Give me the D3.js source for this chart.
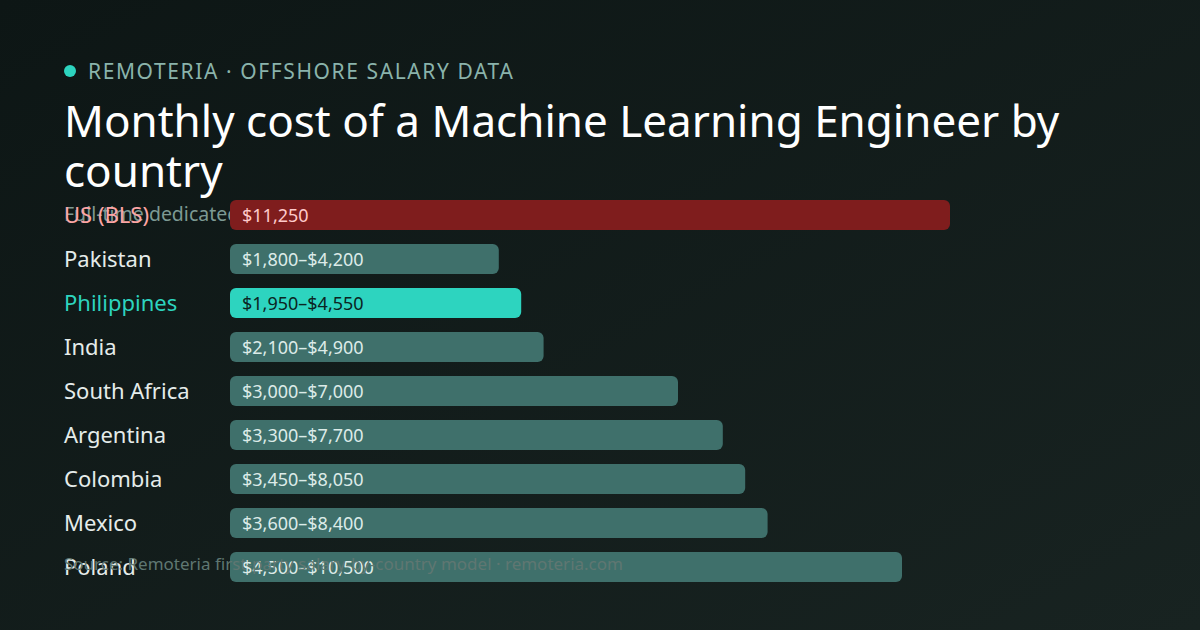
<!DOCTYPE html>
<html><head><meta charset="utf-8">
<script src="https://cdn.jsdelivr.net/npm/d3@7/dist/d3.min.js"></script>
<style>html,body{margin:0;padding:0;background:#0e1716;}svg{display:block;}</style>
</head><body>
<svg id="c" width="1200" height="630"></svg>
<script>
const countries = ["US (BLS)","Pakistan","Philippines","India","South Africa","Argentina","Colombia","Mexico","Poland"];
const lowValues = [11250,1800,1950,2100,3000,3300,3450,3600,4500];
const highValues = [11250,4200,4550,4900,7000,7700,8050,8400,10500];
const kinds = ["us","other","highlight","other","other","other","other","other","other"];
const eyebrow = "REMOTERIA · OFFSHORE SALARY DATA";
const titleLines = ["Monthly cost of a Machine Learning Engineer by","country"];
const subtitle = "Full-time dedicated engineer, monthly cost by country";
const source = "Source: Remoteria first-party salary-by-country model · remoteria.com";

const svg = d3.select("#c");
const defs = svg.append("defs");
const g = defs.append("linearGradient").attr("id","bg").attr("x1","0").attr("y1","0").attr("x2","1").attr("y2","1");
g.append("stop").attr("offset","0").attr("stop-color","#0d1615");
g.append("stop").attr("offset","1").attr("stop-color","#182321");
svg.append("rect").attr("width",1200).attr("height",630).attr("fill","url(#bg)");

const font = "'Noto Sans', 'Open Sans', sans-serif";
svg.append("circle").attr("cx",70).attr("cy",71).attr("r",6).attr("fill","#2dd4bf");
svg.append("text").attr("x",88).attr("y",79).text(eyebrow)
  .attr("font-family",font).attr("font-size",21).attr("letter-spacing",1.6).attr("fill","#8ab3ab");
svg.append("text").selectAll("tspan").data(titleLines).join("tspan")
  .attr("x",64).attr("y",(d,i)=>137+i*50).text(d=>d)
  .attr("font-family",font).attr("font-size",44).attr("fill","#ffffff");
svg.append("text").attr("x",64).attr("y",221).text(subtitle)
  .attr("font-family",font).attr("font-size",19.5).attr("fill","#7d9a94");

const x = d3.scaleLinear().domain([0,11250]).range([230,950]);
const y = d3.scaleBand().domain(countries).range([193,589]).paddingInner(0.318).paddingOuter(0.159);
const fmt = d3.format("$,");
const data = countries.map((c,i)=>({c,lo:lowValues[i],hi:highValues[i],k:kinds[i]}));
const barFill = {us:"#7f1d1d",other:"#3f706b",highlight:"#2dd4bf"};
const labFill = {us:"#fca5a5",other:"#e5ecea",highlight:"#2dd4bf"};
const valFill = {us:"#fecaca",other:"#dcebe8",highlight:"#0b2523"};

const rows = svg.append("g").selectAll("g").data(data).join("g");
rows.append("text").attr("x",64).attr("y",d=>y(d.c)+y.bandwidth()/2+8).text(d=>d.c)
  .attr("font-family",font).attr("font-size",22).attr("fill",d=>labFill[d.k]);
rows.append("rect").attr("x",x(0)).attr("y",d=>y(d.c)).attr("width",d=>x(d.hi)-x(0))
  .attr("height",y.bandwidth()).attr("rx",6).attr("fill",d=>barFill[d.k]);
rows.append("text").attr("x",x(0)+12).attr("y",d=>y(d.c)+y.bandwidth()/2+6.5)
  .text(d=>d.lo===d.hi?fmt(d.hi):fmt(d.lo)+"–"+fmt(d.hi))
  .attr("font-family",font).attr("font-size",18).attr("fill",d=>valFill[d.k]);

svg.append("text").attr("x",64).attr("y",570).text(source)
  .attr("font-family",font).attr("font-size",17).attr("fill","#5f7772");
</script>
</body></html>
